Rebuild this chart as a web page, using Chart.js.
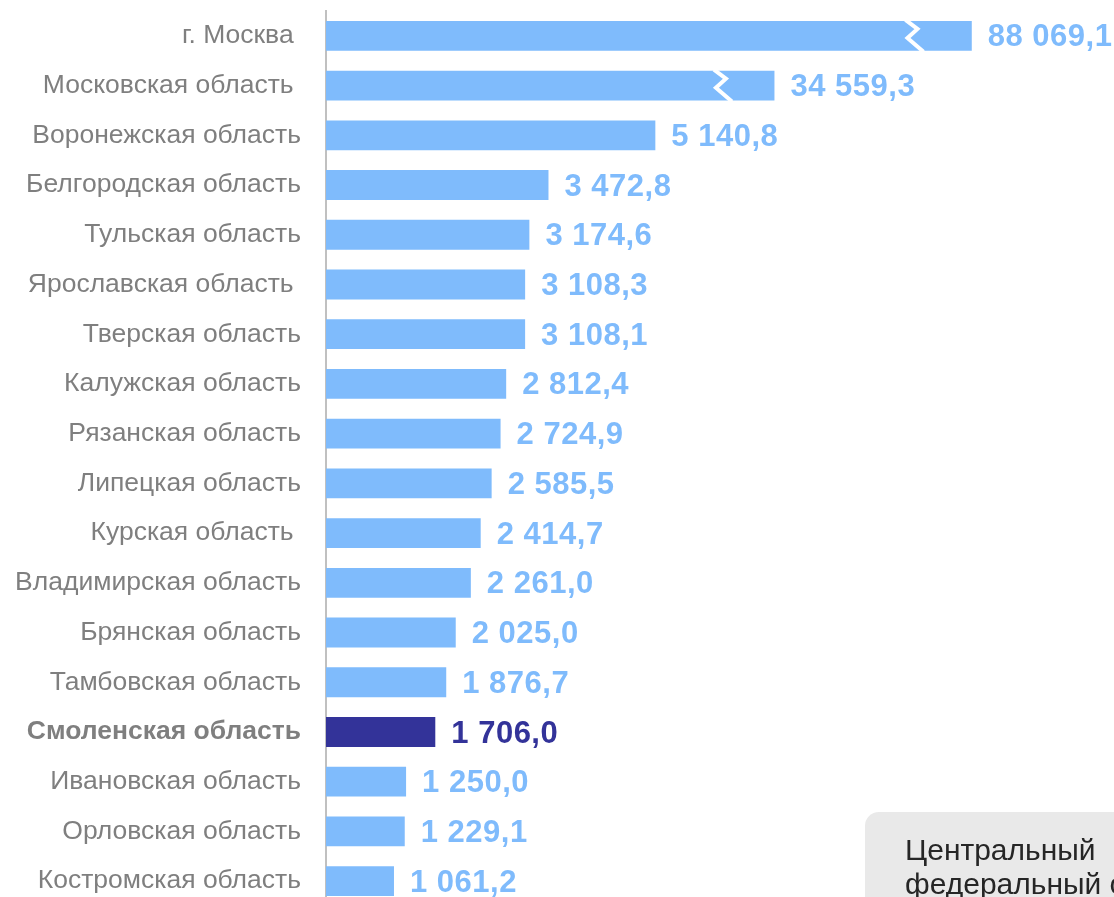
<!DOCTYPE html>
<html>
<head>
<meta charset="utf-8">
<script src="https://cdn.jsdelivr.net/npm/chart.js@4.4.1/dist/chart.umd.min.js"></script>
<style>
  html, body { margin: 0; padding: 0; background: #fff; overflow: hidden; }
  #wrap { position: absolute; left: 0; top: 0; width: 1114px; height: 906px; }
  #note {
    position: absolute; left: 865px; top: 812px; width: 300px; height: 140px;
    background: #e9e9e9; border-radius: 14px; white-space: nowrap;
    font-family: "Liberation Sans", Arial, sans-serif; font-size: 30px; line-height: 34px;
    color: #262626; padding: 21px 0 0 40px; box-sizing: border-box;
  }
</style>
</head>
<body>
<div id="wrap"><canvas id="chart"></canvas></div>
<div id="note">Центральный<br>федеральный округ</div>
<script>
// regions, top to bottom (trailing spaces are in the source labels)
const regions = [
  'г. Москва ', 'Московская область ', 'Воронежская область', 'Белгородская область',
  'Тульская область', 'Ярославская область ', 'Тверская область', 'Калужская область',
  'Рязанская область', 'Липецкая область', 'Курская область ', 'Владимирская область',
  'Брянская область', 'Тамбовская область', 'Смоленская область', 'Ивановская область',
  'Орловская область', 'Костромская область'
];
const values = [
  88069.1, 34559.3, 5140.8, 3472.8, 3174.6, 3108.3, 3108.1, 2812.4, 2724.9,
  2585.5, 2414.7, 2261.0, 2025.0, 1876.7, 1706.0, 1250.0, 1229.1, 1061.2
];
// the two biggest bars are cut: drawn length and where the break sign sits
const brokenLength = { 0: 10080, 1: 7000 };
const breakAt = { 0: 9170, 1: 6180 };
const highlight = 'Смоленская область';

const barColor = '#7fbbfc';
const hiColor = '#333399';

const shown = values.map((v, i) => brokenLength[i] ?? v);
const colors = regions.map(r => r === highlight ? hiColor : barColor);

function fmt(v) {
  const [a, b] = v.toFixed(1).split('.');
  return a.replace(/\B(?=(\d{3})+(?!\d))/g, ' ') + ',' + b;
}

const extras = {
  id: 'extras',
  afterDatasetsDraw(chart) {
    const ctx = chart.ctx;
    const meta = chart.getDatasetMeta(0);
    const x = chart.scales.x;
    ctx.save();
    // break signs
    Object.keys(breakAt).forEach(k => {
      const bar = meta.data[k];
      const cx = x.getPixelForValue(breakAt[k]);
      const t = bar.y - bar.height / 2, h = bar.height;
      ctx.strokeStyle = '#fff';
      ctx.lineWidth = 4;
      ctx.beginPath();
      ctx.moveTo(cx - 8, t - 1);
      ctx.lineTo(cx + 4, t + h * 0.27);
      ctx.lineTo(cx - 6, t + h * 0.57);
      ctx.lineTo(cx + 10, t + h + 1);
      ctx.stroke();
    });
    // value labels
    ctx.font = 'bold 31px "Liberation Sans", Arial, sans-serif';
    ctx.letterSpacing = '0.5px';
    ctx.textBaseline = 'middle';
    ctx.textAlign = 'left';
    meta.data.forEach((bar, i) => {
      ctx.fillStyle = colors[i];
      ctx.fillText(fmt(values[i]), bar.x + 16, bar.y + 2);
    });
    ctx.restore();
  }
};

new Chart(document.getElementById('chart'), {
  type: 'bar',
  data: {
    labels: regions,
    datasets: [{
      data: shown,
      backgroundColor: colors,
      barPercentage: 0.6,
      categoryPercentage: 1
    }]
  },
  options: {
    indexAxis: 'y',
    responsive: true,
    maintainAspectRatio: false,
    animation: false,
    layout: { padding: { top: 11, bottom: 0, left: 0, right: 0 } },
    plugins: { legend: { display: false }, tooltip: { enabled: false } },
    scales: {
      x: { display: false, min: 0, max: 12300 },
      y: {
        afterFit(s) { s.width = 326; s.paddingTop = 0; s.paddingBottom = 0; },
        grid: { display: false, drawTicks: false },
        border: { display: true, color: '#c0c0c0', width: 2 },
        ticks: {
          padding: 25,
          color: '#7f7f7f',
          font: c => ({
            family: '"Liberation Sans", Arial, sans-serif',
            size: 26.5,
            weight: regions[c.index] === highlight ? 'bold' : 'normal'
          })
        }
      }
    }
  },
  plugins: [extras]
});
</script>
</body>
</html>
